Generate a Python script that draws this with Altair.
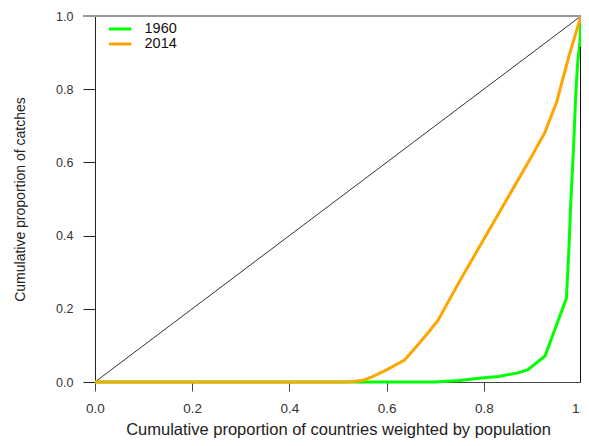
import altair as alt
import pandas as pd

# ---- data ----
years = ["1960", "2014"]
colors = ["#00FF00", "#FFA500"]

x1960 = [0.0, 0.70, 0.75, 0.79, 0.83, 0.87, 0.89, 0.926, 0.970, 0.975, 0.979, 0.985, 0.989, 0.993, 0.998, 1.0]
y1960 = [0.0, 0.0, 0.004, 0.010, 0.015, 0.025, 0.033, 0.071, 0.229, 0.36, 0.49, 0.65, 0.78, 0.87, 0.93, 1.0]

x2014 = [0.0, 0.52, 0.55, 0.57, 0.60, 0.637, 0.66, 0.685, 0.706, 0.75, 0.80, 0.85, 0.90, 0.925, 0.95, 0.975, 1.0]
y2014 = [0.0, 0.0, 0.004, 0.014, 0.033, 0.06, 0.095, 0.134, 0.169, 0.275, 0.39, 0.505, 0.62, 0.68, 0.765, 0.89, 1.0]

diag_x = [0.0, 1.0]
diag_y = [0.0, 1.0]

tick_vals = [0.0, 0.2, 0.4, 0.6, 0.8, 1.0]

rows = []
for yr, xs, ys in [("1960", x1960, y1960), ("2014", x2014, y2014)]:
    for i, (a, b) in enumerate(zip(xs, ys)):
        rows.append({"year": yr, "x": a, "y": b, "i": i})
df = pd.DataFrame(rows)
diag = pd.DataFrame({"x": diag_x, "y": diag_y})

FONT = "Liberation Sans"
W, H = 486, 366

xscale = alt.Scale(domain=[0, 1], nice=False, zero=False)
yscale = alt.Scale(domain=[0, 1], nice=False, zero=False)

xaxis = alt.Axis(values=tick_vals, format=".1f", grid=False,
                 title="Cumulative proportion of countries weighted by population",
                 tickSize=9, labelPadding=10, titlePadding=7,
                 domainColor="#444", tickColor="#444", labelColor="#333",
                 labelFontSize=13.5, titleFontSize=16.5, titleFontWeight="normal",
                 titleColor="#222", labelFlush=False)
yaxis = alt.Axis(values=tick_vals, format=".1f", grid=False,
                 title="Cumulative proportion of catches",
                 tickSize=12, labelPadding=10, titlePadding=28,
                 domainColor="#222", tickColor="#222", labelColor="#333",
                 labelFontSize=12.5, titleFontSize=14, titleFontWeight="normal",
                 titleColor="#222")

diag_layer = alt.Chart(diag).mark_line(color="#333", strokeWidth=1).encode(
    x=alt.X("x:Q", scale=xscale, axis=xaxis),
    y=alt.Y("y:Q", scale=yscale, axis=yaxis),
)

lines = alt.Chart(df).mark_line(strokeWidth=3).encode(
    x=alt.X("x:Q", scale=xscale),
    y=alt.Y("y:Q", scale=yscale),
    color=alt.Color("year:N", scale=alt.Scale(domain=years, range=colors),
                    legend=alt.Legend(title=None, orient="none", legendX=14, legendY=6,
                                      symbolType="M-3,0H3", symbolSize=100,
                                      symbolStrokeWidth=3, labelFontSize=14.5,
                                      labelOffset=21, rowPadding=0, clipHeight=14,
                                      labelColor="#111", labelFont=FONT)),
    order="i:Q",
)

top_rule = alt.Chart(diag).mark_rule(color="#999", strokeWidth=2).encode(
    x=alt.value(-12), x2=alt.value(W), y=alt.value(0)
)
right_rule = alt.Chart(diag).mark_rule(color="#111", strokeWidth=1).encode(
    x=alt.value(W - 0.5), y=alt.value(31), y2=alt.value(H)
)

chart = alt.layer(diag_layer, lines, top_rule, right_rule).properties(
    width=W, height=H,
    autosize=alt.AutoSizeParams(type="none"),
    padding={"left": 87, "top": 8, "right": 0, "bottom": 56},
).configure(font=FONT).configure_view(stroke=None)

chart.save("out.html", embed_options={"renderer": "svg", "actions": False})
